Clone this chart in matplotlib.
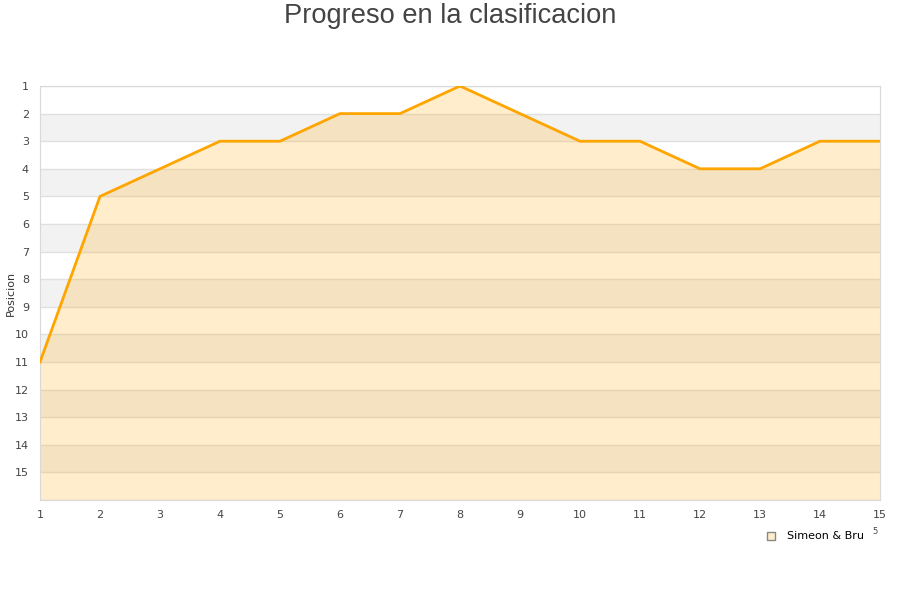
import matplotlib.pyplot as plt
import numpy as np

jornadas = list(range(1, 16))
posicion = [11, 5, 4, 3, 3, 2, 2, 1, 2, 3, 3, 4, 4, 3, 3]
equipo = "Simeon & Bru"
y_ticks = list(range(1, 16))

fig = plt.figure(figsize=(9, 6), dpi=100)
ax = fig.add_axes([40 / 900, 100 / 600, 840 / 900, 414 / 600])

# alternating bands
for k in range(1, 16):
    if k % 2 == 0:
        ax.axhspan(k, k + 1, color="#F2F2F2", lw=0, zorder=0)
for k in range(1, 17):
    ax.axhline(k, color="#E0E0E0", lw=1, zorder=1)

ax.fill_between(jornadas, posicion, 16, color="#FFA500", alpha=0.2, lw=0, zorder=2)
ax.plot(jornadas, posicion, color="#FFA500", lw=2, zorder=3)

ax.set_xlim(1, 15)
ax.set_ylim(16, 1)
ax.set_xticks(jornadas)
ax.set_yticks(y_ticks)
ax.tick_params(length=0, labelsize=8, colors="#444444")
ax.tick_params(axis="x", pad=7)
ax.tick_params(axis="y", pad=8)
for s in ax.spines.values():
    s.set_color("#D9D9D9")
ax.set_ylabel("Posicion", fontsize=8, color="#333333")
ax.yaxis.set_label_coords(-24 / 840, 0.5)

fig.text(0.5, 1 - 16 / 600, "Progreso en la clasificacion", fontsize=19.6,
         color="#444444", ha="center", va="center", family="Liberation Sans")

ax.scatter([], [], marker="s", s=40, facecolor="#FFEDCC", edgecolor="#888888", label=equipo)
fig.legend(loc="center left", bbox_to_anchor=(760 / 900, 1 - 536 / 600), frameon=False,
           fontsize=8, handletextpad=0.4, borderpad=0, borderaxespad=0)
fig.text(875 / 900, 1 - 531 / 600, "5", fontsize=6, color="#444444", ha="center", va="center")

fig.savefig("out.png")
